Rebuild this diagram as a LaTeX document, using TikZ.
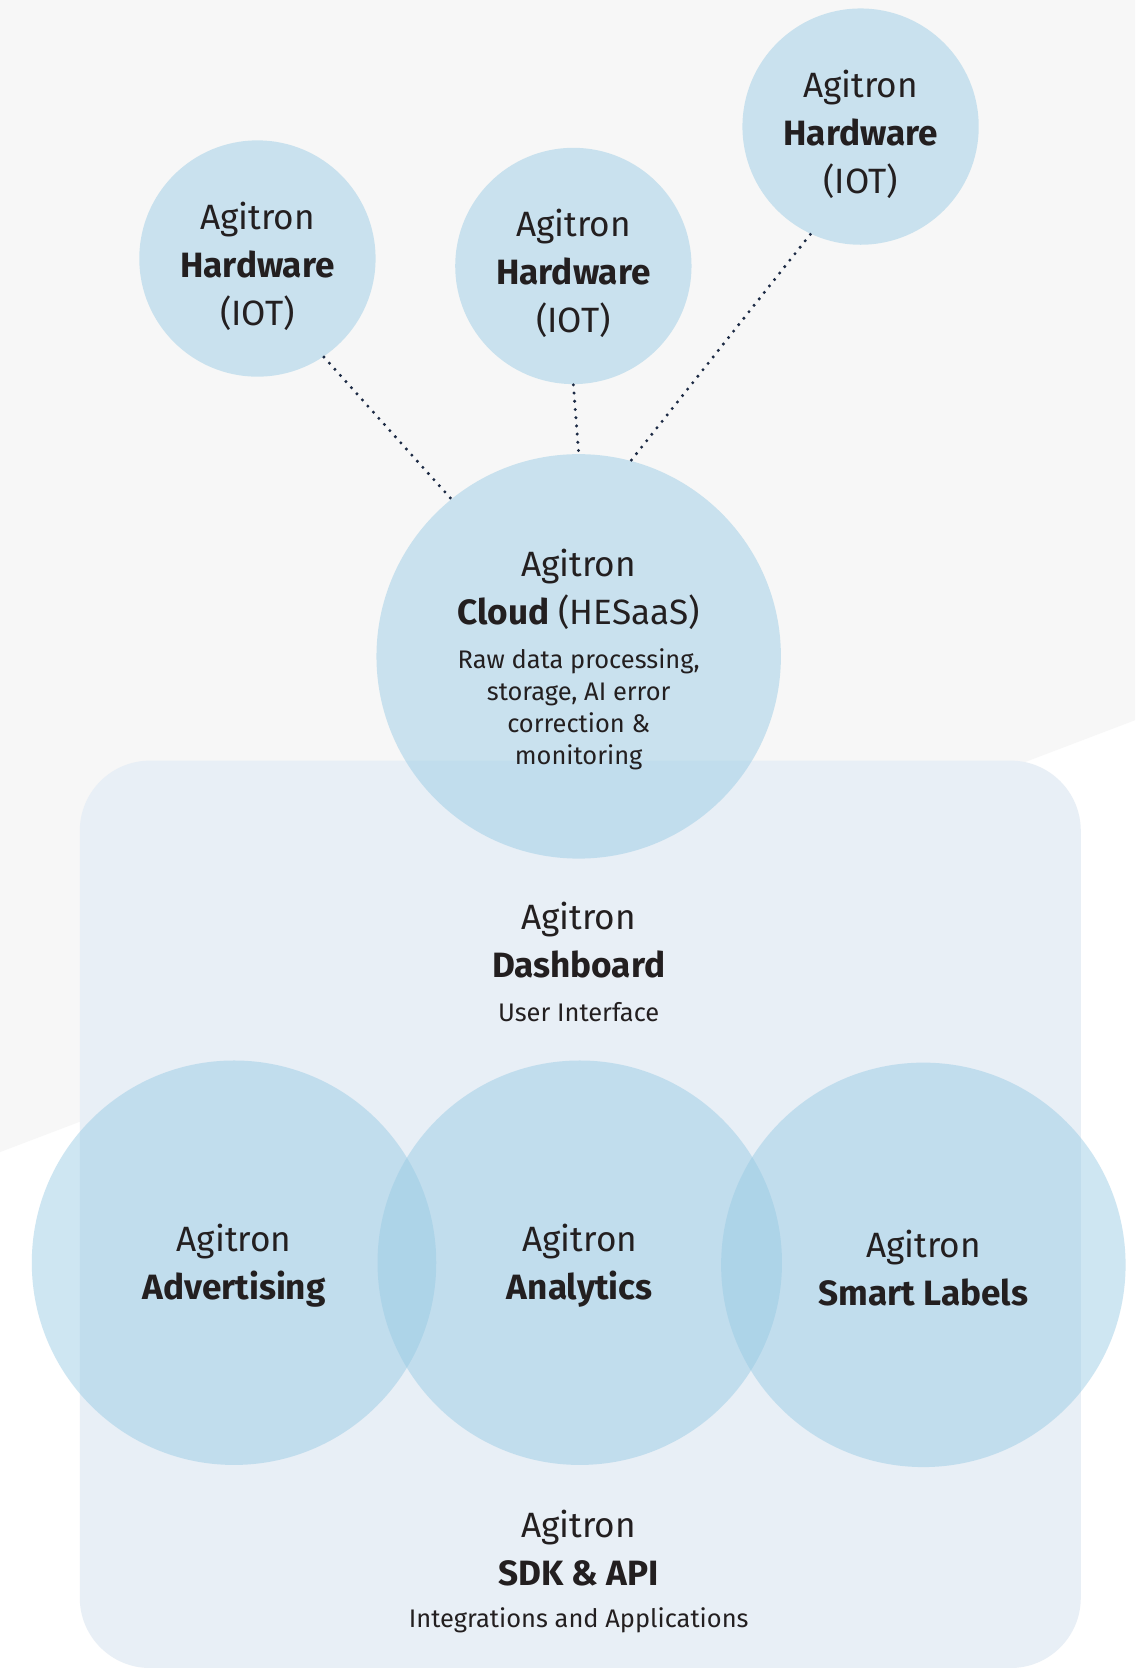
\documentclass[tikz,border=0pt]{standalone}
\usepackage{fontspec}
\setmainfont{Fira Sans}
\definecolor{bggray}{HTML}{F7F7F7}
\definecolor{panel}{HTML}{E8EFF6}
\definecolor{bubble}{RGB}{151,202,228}
\definecolor{ink}{HTML}{231F20}
\definecolor{dotc}{HTML}{1C2A44}
\tikzset{
  bubblenode/.style={circle, fill=bubble, fill opacity=0.47, draw=none, inner sep=0pt},
  smallbubble/.style={bubblenode, minimum size=2.22cm},
  bigbubble/.style={bubblenode, minimum size=3.8cm},
  bigtxt/.style={text=ink, align=center, inner sep=0pt, font=\fontsize{9.4}{12.8}\selectfont},
  smalltxt/.style={text=ink, align=center, inner sep=0pt, font=\fontsize{6.8}{8.55}\selectfont},
  link/.style={draw=dotc, line width=0.9pt, line cap=round, dash pattern=on 0pt off 2.2pt}
}
\begin{document}
\begin{tikzpicture}[x=0.01cm, y=-0.01cm]
\useasboundingbox (0,0) rectangle (1067,1568);
% background
\fill[white] (0,0) rectangle (1067,1568);
\fill[bggray] (0,0) -- (1067,0) -- (1067,677) -- (0,1083) -- cycle;
% panel
\fill[panel, rounded corners=0.66cm] (75,715) rectangle (1016,1568);

% hardware circles
\node[smallbubble] (hw1) at (242,243) {};
\node[smallbubble] (hw2) at (539,250) {};
\node[smallbubble] (hw3) at (809,119) {};
% cloud
\node[bigbubble] (cloud) at (544,617) {};
% bottom circles
\node[bigbubble] (adv) at (220,1187) {};
\node[bigbubble] (ana) at (545,1187) {};
\node[bigbubble] (sml) at (868,1189) {};

% links
\draw[link] (hw1.304.4) -- (cloud.129.3);
\draw[link] (hw2.270) -- (cloud.90.3);
\draw[link] (hw3.245) -- (cloud.75.5);

% texts
\node[bigtxt] (hw1t) at (242,250) {Agitron\\\textbf{Hardware}\\(IOT)};
\node[bigtxt] (hw2t) at (539,257) {Agitron\\\textbf{Hardware}\\(IOT)};
\node[bigtxt] (hw3t) at (809,126) {Agitron\\\textbf{Hardware}\\(IOT)};
\node[bigtxt] (cloudt) at (544,554) {Agitron\\\textbf{Cloud} (HESaaS)};
\node[smalltxt] (clouddesc) at (544,667) {Raw data processing,\\storage, AI error\\correction \&\\monitoring};
\node[bigtxt] (dasht) at (544,884) {Agitron\\\textbf{Dashboard}};
\node[smalltxt] (dashsub) at (544,951) {User Interface};
\node[bigtxt] (advt) at (220,1190) {Agitron\\\textbf{Advertising}};
\node[bigtxt] (anat) at (545,1190) {Agitron\\\textbf{Analytics}};
\node[bigtxt] (smlt) at (868,1192) {Agitron\\\textbf{Smart Labels}};
\node[bigtxt] (sdkt) at (544,1455) {Agitron\\\textbf{SDK \& API}};
\node[smalltxt] (sdksub) at (544,1523) {Integrations and Applications};
\end{tikzpicture}
\end{document}
